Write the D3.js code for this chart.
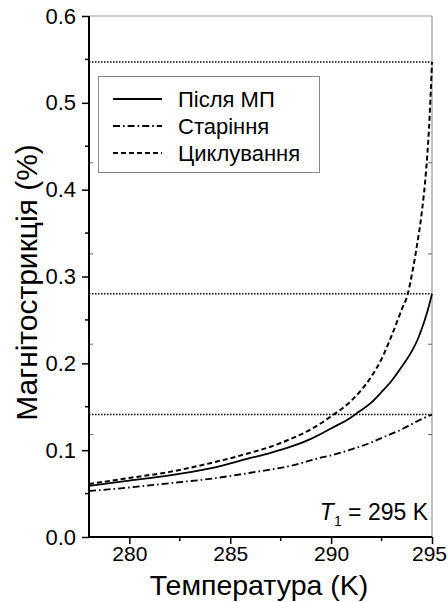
<!DOCTYPE html>
<html>
<head>
<meta charset="utf-8">
<script src="https://cdn.jsdelivr.net/npm/d3@7"></script>
<style>
  html, body { margin: 0; padding: 0; background: #fff; }
  svg { display: block; font-family: "Liberation Sans", Arial, sans-serif; }
</style>
</head>
<body>
<svg id="chart" width="448" height="602"></svg>
<script>
// Magnetostriction vs temperature for three sample states
const tAfter = [278, 280, 282, 284, 286, 287, 288, 289, 289.6, 290, 291, 291.24, 292, 292.5, 293, 293.5, 294, 294.3, 294.6, 294.8, 295];
const vAfter = [0.059, 0.065, 0.071, 0.079, 0.091, 0.097, 0.104, 0.113, 0.120, 0.125, 0.138, 0.142, 0.155, 0.167, 0.180, 0.196, 0.214, 0.228, 0.247, 0.262, 0.280];

const tAging = [278, 280, 282, 284, 286, 288, 289.6, 290, 291, 292, 292.6, 293.5, 294, 294.5, 295];
const vAging = [0.053, 0.057, 0.062, 0.067, 0.074, 0.082, 0.092, 0.094, 0.101, 0.109, 0.115, 0.124, 0.130, 0.136, 0.141];

const tCycle = [278, 280, 282, 284, 286, 287, 288, 289, 290, 291, 292, 292.5, 293, 293.5, 293.8, 294, 294.25, 294.5, 294.7, 294.85, 295];
const vCycle = [0.061, 0.068, 0.075, 0.085, 0.097, 0.104, 0.113, 0.124, 0.139, 0.157, 0.185, 0.205, 0.232, 0.262, 0.280, 0.302, 0.335, 0.375, 0.420, 0.470, 0.547];

// end-point reference levels (dotted)
const refLevels = [0.547, 0.280, 0.141];

const xTicks = [280, 285, 290, 295];
const xMinor = [282.5, 287.5, 292.5];
const yTicks = [0.0, 0.1, 0.2, 0.3, 0.4, 0.5, 0.6];
const yMinor = [0.05, 0.15, 0.25, 0.35, 0.45, 0.55];
const yInner = [0.118, 0.222, 0.326, 0.431];

const legendLabels = ["Після МП", "Старіння", "Циклування"];
const xTitle = "Температура (K)";
const yTitle = "Магнітострикція (%)";

const svg = d3.select("#chart");
const x = d3.scaleLinear().domain([278, 295]).range([89, 432]);
const y = d3.scaleLinear().domain([0, 0.6]).range([537, 16]);

const series = [
  { t: tAfter, v: vAfter, dash: null, w: 1.8 },
  { t: tAging, v: vAging, dash: "7,3,1.6,3", w: 1.8 },
  { t: tCycle, v: vCycle, dash: "5,3", w: 2 }
];

// dotted reference lines
svg.append("g").selectAll("line").data(refLevels).join("line")
  .attr("x1", x(278)).attr("x2", x(295))
  .attr("y1", d => y(d)).attr("y2", d => y(d))
  .attr("stroke", "#000").attr("stroke-width", 1.5)
  .attr("stroke-dasharray", "1.5,1.5");

// frame: top and right mirror lines
svg.append("line").attr("x1", x(278)).attr("x2", x(295)).attr("y1", y(0.6)).attr("y2", y(0.6))
  .attr("stroke", "#999").attr("stroke-width", 1.2);
svg.append("line").attr("x1", x(295)).attr("x2", x(295)).attr("y1", y(0.6)).attr("y2", y(0))
  .attr("stroke", "#999").attr("stroke-width", 1.2);

// inner ticks on left and right frame sides
svg.append("g").selectAll("line").data(yInner).join("line")
  .attr("x1", x(278)).attr("x2", x(278) + 4)
  .attr("y1", d => y(d)).attr("y2", d => y(d))
  .attr("stroke", "#666").attr("stroke-width", 1);
svg.append("g").selectAll("line").data(yInner).join("line")
  .attr("x1", x(295) - 4).attr("x2", x(295))
  .attr("y1", d => y(d)).attr("y2", d => y(d))
  .attr("stroke", "#666").attr("stroke-width", 1);

// curves
const line = d3.line().curve(d3.curveMonotoneX);
series.forEach(s => {
  const pts = s.t.map((t, i) => [x(t), y(s.v[i])]);
  svg.append("path").attr("d", line(pts))
    .attr("fill", "none").attr("stroke", "#000")
    .attr("stroke-width", s.w)
    .attr("stroke-dasharray", s.dash);
});

// left axis
const yAxis = svg.append("g").attr("transform", `translate(${x(278)},0)`)
  .call(d3.axisLeft(y).tickValues(yTicks).tickFormat(d3.format(".1f")).tickSize(7).tickPadding(6));
yAxis.select(".domain").attr("stroke-width", 2).attr("d", `M0,${y(0.6)}V${y(0)}`);
yAxis.selectAll(".tick line").attr("stroke-width", 1.5);
yAxis.selectAll("text").attr("font-size", 22).attr("fill", "#000")
  .attr("font-family", "Liberation Sans, Arial, sans-serif");
svg.append("g").selectAll("line").data(yMinor).join("line")
  .attr("x1", x(278) - 4).attr("x2", x(278))
  .attr("y1", d => y(d)).attr("y2", d => y(d))
  .attr("stroke", "#000").attr("stroke-width", 1.5);

// bottom axis
const xAxis = svg.append("g").attr("transform", `translate(0,${y(0)})`)
  .call(d3.axisBottom(x).tickValues(xTicks).tickFormat(d3.format("d")).tickSize(7).tickPadding(2));
xAxis.select(".domain").attr("stroke-width", 2).attr("d", `M${x(278)},0H${x(295)}`);
xAxis.selectAll(".tick line").attr("stroke-width", 1.5);
xAxis.selectAll("text").attr("font-size", 21).attr("fill", "#000")
  .attr("font-family", "Liberation Sans, Arial, sans-serif");
// keep the last label inside the page
xAxis.selectAll(".tick text").filter(d => d === 295).attr("dx", -3);
svg.append("g").selectAll("line").data(xMinor).join("line")
  .attr("x1", d => x(d)).attr("x2", d => x(d))
  .attr("y1", y(0)).attr("y2", y(0) + 4)
  .attr("stroke", "#000").attr("stroke-width", 1.5);

// axis titles
svg.append("text").attr("x", 259).attr("y", 595)
  .attr("text-anchor", "middle").attr("font-size", 28.5).text(xTitle);
svg.append("text")
  .attr("transform", `translate(37,${(y(0) + y(0.6)) / 2 + 6}) rotate(-90)`)
  .attr("text-anchor", "middle").attr("font-size", 30).text(yTitle);

// legend
const lg = svg.append("g");
lg.append("rect").attr("x", 98.5).attr("y", 76.5).attr("width", 221).attr("height", 96)
  .attr("fill", "#fff").attr("stroke", "#888").attr("stroke-width", 1);
const rowY = [99, 126, 153];
series.forEach((s, i) => {
  lg.append("line").attr("x1", 113).attr("x2", 162)
    .attr("y1", rowY[i]).attr("y2", rowY[i])
    .attr("stroke", "#000").attr("stroke-width", s.w)
    .attr("stroke-dasharray", s.dash);
  lg.append("text").attr("x", 178).attr("y", rowY[i] + 8)
    .attr("font-size", 22).text(legendLabels[i]);
});

// temperature note
const note = svg.append("text").attr("x", 428).attr("y", 520)
  .attr("text-anchor", "end").attr("font-size", 23).attr("fill", "#000");
note.append("tspan").attr("font-style", "italic").text("T");
note.append("tspan").attr("font-size", 14).attr("dy", 6).text("1");
note.append("tspan").attr("dy", -6).text(" = 295 K");
</script>
</body>
</html>
